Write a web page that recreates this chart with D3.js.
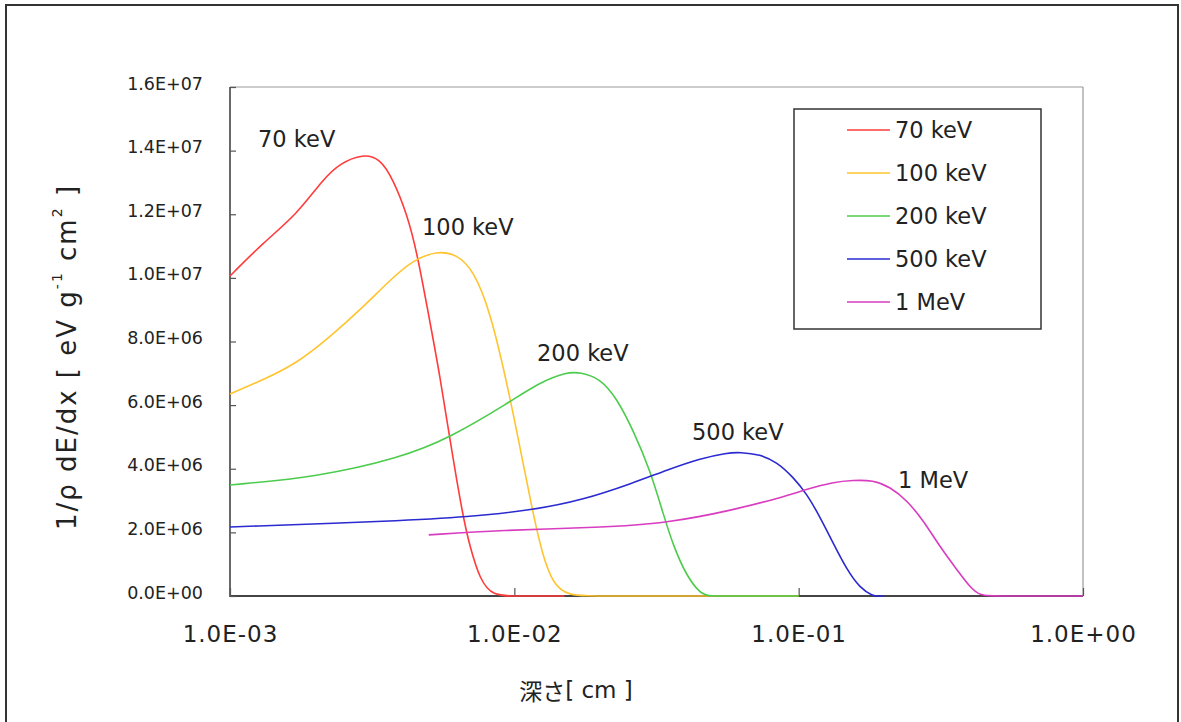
<!DOCTYPE html>
<html>
<head>
<meta charset="utf-8">
<script src="https://cdn.jsdelivr.net/npm/d3@7"></script>
<style>
  html, body { margin: 0; padding: 0; background: #fff; }
  svg { display: block; }
  text { font-family: "DejaVu Sans", Verdana, sans-serif; fill: #222; }
</style>
</head>
<body>
<svg id="chart" width="1181" height="722"></svg>
<script>
// Stopping power vs depth for electrons of several energies
const seriesNames = ["70 keV", "100 keV", "200 keV", "500 keV", "1 MeV"];
const seriesColors = ["#ff3b3b", "#ffc42e", "#4ccc4c", "#2a2ad0", "#d83cc0"];

const depth70 = [0.001, 0.001306, 0.00172, 0.002124, 0.002437, 0.002936, 0.00337, 0.003744, 0.004194, 0.004548, 0.005052, 0.005479, 0.005939, 0.006598, 0.006985, 0.007574, 0.008414, 0.01, 0.015];
const dedx70  = [1.006e7, 1.11e7, 1.20e7, 1.31e7, 1.36e7, 1.39e7, 1.375e7, 1.31e7, 1.20e7, 1.08e7, 8.6e6, 6.9e6, 4.9e6, 2.48e6, 1.54e6, 5.0e5, 0, 0, 0];

const depth100 = [0.001, 0.001349, 0.00172, 0.002247, 0.002936, 0.003653, 0.004401, 0.005346, 0.006285, 0.007155, 0.008212, 0.009656, 0.01073, 0.01163, 0.01261, 0.01368, 0.01532, 0.02, 0.1];
const dedx100  = [6.35e6, 6.85e6, 7.32e6, 8.14e6, 9.08e6, 9.93e6, 1.056e7, 1.085e7, 1.074e7, 1.025e7, 9.0e6, 6.26e6, 4.18e6, 2.6e6, 1.23e6, 4.0e5, 0, 0, 0];

const depth200 = [0.001, 0.002023, 0.003962, 0.005939, 0.009656, 0.01231, 0.01532, 0.01702, 0.02001, 0.02297, 0.02615, 0.03001, 0.03335, 0.03614, 0.0405, 0.04498, 0.0476, 0.055, 0.1];
const dedx200  = [3.49e6, 3.74e6, 4.34e6, 4.97e6, 6.1e6, 6.72e6, 7.04e6, 7.03e6, 6.85e6, 6.2e6, 5.22e6, 3.96e6, 2.6e6, 1.6e6, 6.0e5, 1.0e5, 0, 0, 0];

const depth500 = [0.001, 0.003962, 0.006817, 0.01163, 0.01744, 0.02615, 0.03443, 0.04498, 0.05598, 0.06218, 0.07311, 0.0839, 0.09552, 0.107, 0.1189, 0.1321, 0.1479, 0.1643, 0.1826, 0.19, 0.2];
const dedx500  = [2.17e6, 2.36e6, 2.48e6, 2.7e6, 3.02e6, 3.55e6, 3.96e6, 4.32e6, 4.5e6, 4.52e6, 4.45e6, 4.21e6, 3.74e6, 3.2e6, 2.48e6, 1.67e6, 8.2e5, 2.5e5, 0, 0, 0];

const depth1M = [0.005, 0.0089, 0.02001, 0.03443, 0.05875, 0.0881, 0.107, 0.1321, 0.1553, 0.1826, 0.2096, 0.2405, 0.2737, 0.3142, 0.3606, 0.4005, 0.4342, 0.5, 1.0];
const dedx1M  = [1.92e6, 2.07e6, 2.15e6, 2.29e6, 2.7e6, 3.11e6, 3.36e6, 3.58e6, 3.64e6, 3.64e6, 3.43e6, 3.0e6, 2.39e6, 1.54e6, 8.2e5, 2.8e5, 0, 0, 0];

const depthSets = [depth70, depth100, depth200, depth500, depth1M];
const dedxSets  = [dedx70, dedx100, dedx200, dedx500, dedx1M];

// Curve annotations, placed in data coordinates (depth, value)
const labelDepth = [0.001255, 0.004735, 0.01202, 0.04216, 0.2236];
const labelValue = [1.437e7, 1.16e7, 7.64e6, 5.15e6, 3.65e6];

const xTickValues = [1e-3, 1e-2, 1e-1, 1];
const yTickValues = [0, 2e6, 4e6, 6e6, 8e6, 1e7, 1.2e7, 1.4e7, 1.6e7];

const xTitle = "深さ";
const yTitle = "1/ρ dE/dx [ eV g";

// Layout
const plot = { left: 230, top: 87, right: 1083, bottom: 596 };

const svg = d3.select("#chart");

// Outer frame
svg.append("rect")
  .attr("x", 6).attr("y", 5).attr("width", 1172).attr("height", 740)
  .attr("fill", "none").attr("stroke", "#333").attr("stroke-width", 2);

const x = d3.scaleLog().domain([1e-3, 1]).range([plot.left, plot.right]);
const y = d3.scaleLinear().domain([0, 1.6e7]).range([plot.bottom, plot.top]);

// Scientific tick label, e.g. 1.6E+07
function sciFmt(v) {
  if (v === 0) return "0.0E+00";
  const e = Math.floor(Math.log10(Math.abs(v)) + 1e-9);
  const m = v / Math.pow(10, e);
  const sign = e < 0 ? "-" : "+";
  const ee = String(Math.abs(e)).padStart(2, "0");
  return m.toFixed(1) + "E" + sign + ee;
}

// Plot frame: light top/right, dark left/bottom
svg.append("line").attr("x1", plot.left).attr("x2", plot.right).attr("y1", plot.top).attr("y2", plot.top)
  .attr("stroke", "#999").attr("stroke-width", 1.2);
svg.append("line").attr("x1", plot.right).attr("x2", plot.right).attr("y1", plot.top).attr("y2", plot.bottom)
  .attr("stroke", "#999").attr("stroke-width", 1.2);
svg.append("line").attr("x1", plot.left).attr("x2", plot.left).attr("y1", plot.top).attr("y2", plot.bottom + 1)
  .attr("stroke", "#444").attr("stroke-width", 1.6);
svg.append("line").attr("x1", plot.left).attr("x2", plot.right).attr("y1", plot.bottom).attr("y2", plot.bottom)
  .attr("stroke", "#444").attr("stroke-width", 2);

// Axes
const yAxis = d3.axisLeft(y).tickValues(yTickValues).tickFormat(sciFmt).tickSize(-6).tickPadding(27);
const gy = svg.append("g").attr("transform", `translate(${plot.left},0)`).call(yAxis);
gy.select(".domain").remove();
gy.selectAll(".tick line").attr("stroke", "#555").attr("stroke-width", 1.2);
gy.selectAll(".tick text")
  .attr("font-family", "DejaVu Sans, Verdana, sans-serif")
  .attr("font-size", 17.5).attr("fill", "#222")
  .attr("dy", null).attr("y", -4).attr("dominant-baseline", "central");

const xAxis = d3.axisBottom(x).tickValues(xTickValues).tickFormat(sciFmt).tickSize(-8);
const gx = svg.append("g").attr("transform", `translate(0,${plot.bottom})`).call(xAxis);
gx.select(".domain").remove();
gx.selectAll(".tick line").attr("stroke", "#555").attr("stroke-width", 1.2);
gx.selectAll(".tick text")
  .attr("font-family", "DejaVu Sans, Verdana, sans-serif")
  .attr("font-size", 23).attr("letter-spacing", 1).attr("fill", "#222")
  .attr("dy", null).attr("y", 38).attr("dominant-baseline", "central");

// Series lines (smoothed)
const line = d3.line()
  .x(d => x(d[0]))
  .y(d => y(d[1]))
  .curve(d3.curveBasis);

const gLines = svg.append("g");
seriesNames.forEach((name, i) => {
  const pts = depthSets[i].map((dv, k) => [dv, dedxSets[i][k]]);
  gLines.append("path")
    .datum(pts)
    .attr("d", line)
    .attr("fill", "none")
    .attr("stroke", seriesColors[i])
    .attr("stroke-width", 1.6);
});

// Curve annotations
seriesNames.forEach((name, i) => {
  svg.append("text")
    .attr("x", x(labelDepth[i]))
    .attr("y", y(labelValue[i]))
    .attr("dominant-baseline", "central")
    .attr("font-size", 22.5)
    .text(name);
});

// Legend
const lg = svg.append("g");
lg.append("rect")
  .attr("x", 794).attr("y", 109).attr("width", 247).attr("height", 220)
  .attr("fill", "#fff").attr("stroke", "#333").attr("stroke-width", 1.5);
seriesNames.forEach((name, i) => {
  const ry = 130 + i * 43;
  lg.append("line").attr("x1", 847).attr("x2", 890).attr("y1", ry).attr("y2", ry)
    .attr("stroke", seriesColors[i]).attr("stroke-width", 1.6);
  lg.append("text").attr("x", 895).attr("y", ry).attr("dominant-baseline", "central")
    .attr("font-size", 22.5).text(name);
});

// Axis titles
const xt = svg.append("text")
  .attr("x", 576).attr("y", 690)
  .attr("text-anchor", "middle").attr("dominant-baseline", "central")
  .attr("font-size", 23);
xt.append("tspan").attr("font-family", "Noto Sans CJK JP").text(xTitle);
xt.append("tspan").text("[ cm ]");

const yt = svg.append("text")
  .attr("transform", "translate(67,357) rotate(-90)")
  .attr("text-anchor", "middle").attr("dominant-baseline", "central")
  .attr("font-size", 26).attr("letter-spacing", 2);
yt.append("tspan").text(yTitle);
yt.append("tspan").attr("font-size", 14).attr("dy", -10).text("-1");
yt.append("tspan").attr("dy", 10).text(" cm");
yt.append("tspan").attr("font-size", 14).attr("dy", -10).text("2");
yt.append("tspan").attr("dy", 10).text(" ]");
</script>
</body>
</html>
